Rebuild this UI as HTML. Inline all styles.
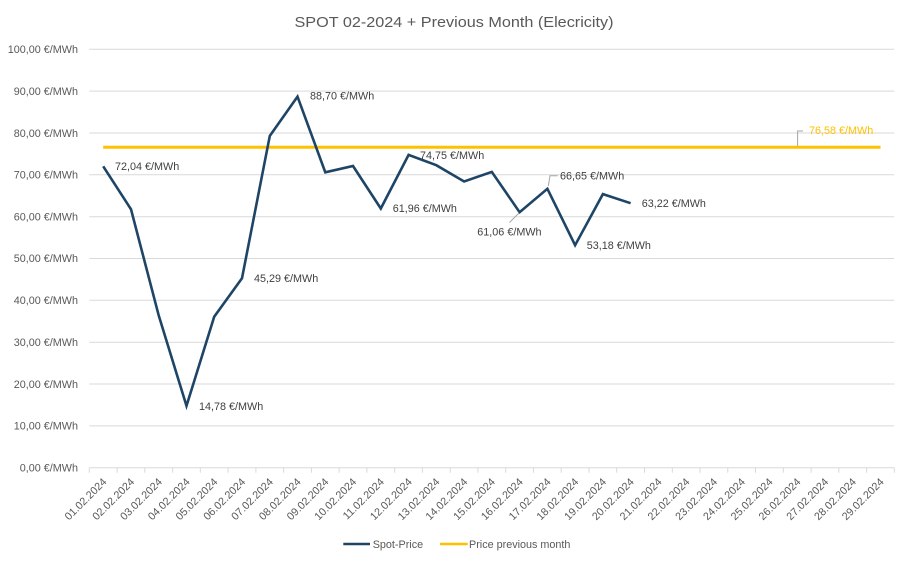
<!DOCTYPE html>
<html><head><meta charset="utf-8"><style>
html,body{margin:0;padding:0;background:#fff;}
svg{display:block;}
text{font-family:"Liberation Sans",sans-serif;}
</style></head><body>
<svg width="909" height="564" viewBox="0 0 909 564" xmlns="http://www.w3.org/2000/svg">
<rect width="909" height="564" fill="#fff"/>
<text x="454" y="27" text-anchor="middle" font-size="15" fill="#595959" textLength="319" lengthAdjust="spacingAndGlyphs">SPOT 02-2024 + Previous Month (Elecricity)</text>
<g stroke="#d9d9d9" stroke-width="1">
<line x1="89.3" x2="894.3" y1="49.3" y2="49.3"/>
<line x1="89.3" x2="894.3" y1="91.1" y2="91.1"/>
<line x1="89.3" x2="894.3" y1="133.0" y2="133.0"/>
<line x1="89.3" x2="894.3" y1="174.8" y2="174.8"/>
<line x1="89.3" x2="894.3" y1="216.7" y2="216.7"/>
<line x1="89.3" x2="894.3" y1="258.5" y2="258.5"/>
<line x1="89.3" x2="894.3" y1="300.3" y2="300.3"/>
<line x1="89.3" x2="894.3" y1="342.2" y2="342.2"/>
<line x1="89.3" x2="894.3" y1="384.0" y2="384.0"/>
<line x1="89.3" x2="894.3" y1="425.9" y2="425.9"/>
<line x1="89.3" x2="894.3" y1="467.7" y2="467.7"/>
</g>
<g font-size="10.8" fill="#595959" text-anchor="end">
<text x="78" y="53">100,00 €/MWh</text>
<text x="78" y="95">90,00 €/MWh</text>
<text x="78" y="137">80,00 €/MWh</text>
<text x="78" y="178.5">70,00 €/MWh</text>
<text x="78" y="220.5">60,00 €/MWh</text>
<text x="78" y="262">50,00 €/MWh</text>
<text x="78" y="304">40,00 €/MWh</text>
<text x="78" y="346">30,00 €/MWh</text>
<text x="78" y="388">20,00 €/MWh</text>
<text x="78" y="429.5">10,00 €/MWh</text>
<text x="78" y="471.5">0,00 €/MWh</text>
</g>
<g stroke="#d9d9d9" stroke-width="1">
<line x1="89.3" x2="89.3" y1="467.7" y2="472.7"/>
<line x1="117.1" x2="117.1" y1="467.7" y2="472.7"/>
<line x1="144.8" x2="144.8" y1="467.7" y2="472.7"/>
<line x1="172.6" x2="172.6" y1="467.7" y2="472.7"/>
<line x1="200.3" x2="200.3" y1="467.7" y2="472.7"/>
<line x1="228.1" x2="228.1" y1="467.7" y2="472.7"/>
<line x1="255.9" x2="255.9" y1="467.7" y2="472.7"/>
<line x1="283.6" x2="283.6" y1="467.7" y2="472.7"/>
<line x1="311.4" x2="311.4" y1="467.7" y2="472.7"/>
<line x1="339.1" x2="339.1" y1="467.7" y2="472.7"/>
<line x1="366.9" x2="366.9" y1="467.7" y2="472.7"/>
<line x1="394.7" x2="394.7" y1="467.7" y2="472.7"/>
<line x1="422.4" x2="422.4" y1="467.7" y2="472.7"/>
<line x1="450.2" x2="450.2" y1="467.7" y2="472.7"/>
<line x1="477.9" x2="477.9" y1="467.7" y2="472.7"/>
<line x1="505.7" x2="505.7" y1="467.7" y2="472.7"/>
<line x1="533.5" x2="533.5" y1="467.7" y2="472.7"/>
<line x1="561.2" x2="561.2" y1="467.7" y2="472.7"/>
<line x1="589.0" x2="589.0" y1="467.7" y2="472.7"/>
<line x1="616.7" x2="616.7" y1="467.7" y2="472.7"/>
<line x1="644.5" x2="644.5" y1="467.7" y2="472.7"/>
<line x1="672.3" x2="672.3" y1="467.7" y2="472.7"/>
<line x1="700.0" x2="700.0" y1="467.7" y2="472.7"/>
<line x1="727.8" x2="727.8" y1="467.7" y2="472.7"/>
<line x1="755.5" x2="755.5" y1="467.7" y2="472.7"/>
<line x1="783.3" x2="783.3" y1="467.7" y2="472.7"/>
<line x1="811.1" x2="811.1" y1="467.7" y2="472.7"/>
<line x1="838.8" x2="838.8" y1="467.7" y2="472.7"/>
<line x1="866.6" x2="866.6" y1="467.7" y2="472.7"/>
<line x1="894.3" x2="894.3" y1="467.7" y2="472.7"/>
</g>
<g font-size="10.8" fill="#595959" text-anchor="end">
<text transform="translate(107.2,482.5) rotate(-45)">01.02.2024</text>
<text transform="translate(135.0,482.5) rotate(-45)">02.02.2024</text>
<text transform="translate(162.7,482.5) rotate(-45)">03.02.2024</text>
<text transform="translate(190.5,482.5) rotate(-45)">04.02.2024</text>
<text transform="translate(218.2,482.5) rotate(-45)">05.02.2024</text>
<text transform="translate(246.0,482.5) rotate(-45)">06.02.2024</text>
<text transform="translate(273.8,482.5) rotate(-45)">07.02.2024</text>
<text transform="translate(301.5,482.5) rotate(-45)">08.02.2024</text>
<text transform="translate(329.3,482.5) rotate(-45)">09.02.2024</text>
<text transform="translate(357.0,482.5) rotate(-45)">10.02.2024</text>
<text transform="translate(384.8,482.5) rotate(-45)">11.02.2024</text>
<text transform="translate(412.6,482.5) rotate(-45)">12.02.2024</text>
<text transform="translate(440.3,482.5) rotate(-45)">13.02.2024</text>
<text transform="translate(468.1,482.5) rotate(-45)">14.02.2024</text>
<text transform="translate(495.8,482.5) rotate(-45)">15.02.2024</text>
<text transform="translate(523.6,482.5) rotate(-45)">16.02.2024</text>
<text transform="translate(551.4,482.5) rotate(-45)">17.02.2024</text>
<text transform="translate(579.1,482.5) rotate(-45)">18.02.2024</text>
<text transform="translate(606.9,482.5) rotate(-45)">19.02.2024</text>
<text transform="translate(634.6,482.5) rotate(-45)">20.02.2024</text>
<text transform="translate(662.4,482.5) rotate(-45)">21.02.2024</text>
<text transform="translate(690.2,482.5) rotate(-45)">22.02.2024</text>
<text transform="translate(717.9,482.5) rotate(-45)">23.02.2024</text>
<text transform="translate(745.7,482.5) rotate(-45)">24.02.2024</text>
<text transform="translate(773.4,482.5) rotate(-45)">25.02.2024</text>
<text transform="translate(801.2,482.5) rotate(-45)">26.02.2024</text>
<text transform="translate(829.0,482.5) rotate(-45)">27.02.2024</text>
<text transform="translate(856.7,482.5) rotate(-45)">28.02.2024</text>
<text transform="translate(884.5,482.5) rotate(-45)">29.02.2024</text>
</g>
<line x1="103.2" x2="880.5" y1="147.3" y2="147.3" stroke="#FFC000" stroke-width="3"/>
<polyline fill="none" stroke="#1E4566" stroke-width="2.6" stroke-linejoin="miter" points="103.2,166.3 131.0,209.3 158.7,315.4 186.5,405.9 214.2,316.7 242.0,278.2 269.8,135.9 297.5,96.6 325.3,172.3 353.0,166.0 380.8,208.5 408.6,154.9 436.3,165.2 464.1,181.5 491.8,171.9 519.6,212.2 547.4,188.8 575.1,245.2 602.9,194.1 630.6,203.2"/>
<g stroke="#a6a6a6" stroke-width="1" fill="none">
<polyline points="797.6,146 797.6,131 803,131"/>
<polyline points="519,213 509.5,222.5"/>
<polyline points="548.3,186 550,175.7 557.7,175.7"/>
</g>
<g font-size="10.8" fill="#404040">
<text x="115" y="170">72,04 €/MWh</text>
<text x="310" y="99.5">88,70 €/MWh</text>
<text x="199" y="410">14,78 €/MWh</text>
<text x="254" y="282">45,29 €/MWh</text>
<text x="392.7" y="212">61,96 €/MWh</text>
<text x="420" y="159">74,75 €/MWh</text>
<text x="477.3" y="235.5">61,06 €/MWh</text>
<text x="560" y="179.5">66,65 €/MWh</text>
<text x="586.7" y="249">53,18 €/MWh</text>
<text x="641.7" y="207">63,22 €/MWh</text>
</g>
<text x="809" y="134" font-size="10.8" fill="#FFC000">76,58 €/MWh</text>
<line x1="343.3" x2="370" y1="544" y2="544" stroke="#1E4566" stroke-width="2.6"/>
<text x="372.7" y="548" font-size="10.8" fill="#595959">Spot-Price</text>
<line x1="440" x2="467.7" y1="544" y2="544" stroke="#FFC000" stroke-width="2.6"/>
<text x="469" y="548" font-size="10.8" fill="#595959">Price previous month</text>
</svg>
</body></html>
